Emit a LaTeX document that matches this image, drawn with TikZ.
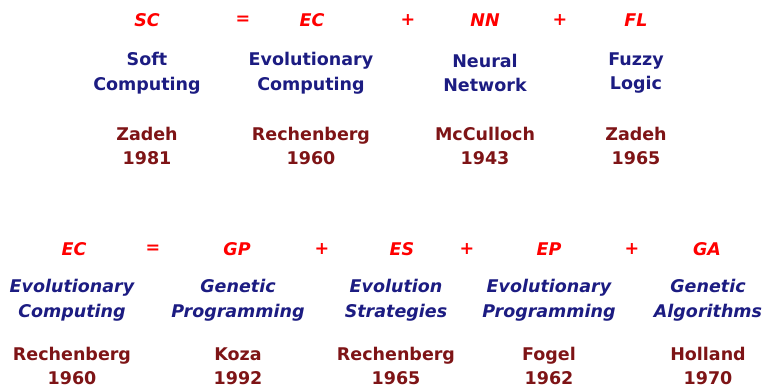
\documentclass[tikz,border=0pt]{standalone}
\usepackage{fontspec}
\setmainfont{DejaVu Sans}
\definecolor{tred}{HTML}{FF0000}
\definecolor{tnavy}{HTML}{1C1C82}
\definecolor{tmaroon}{HTML}{7E1416}
\tikzset{
  txtbase/.style={inner sep=0pt, align=center, font=\fontsize{17.5}{24.5}\selectfont\bfseries},
  abbr/.style={txtbase, text=tred, font=\fontsize{17.5}{24.5}\selectfont\bfseries\itshape},
  oper/.style={txtbase, text=tred},
  fullname/.style={txtbase, text=tnavy},
  ifullname/.style={txtbase, text=tnavy, font=\fontsize{17.5}{24.5}\selectfont\bfseries\itshape},
  author/.style={txtbase, text=tmaroon}}
\begin{document}
\begin{tikzpicture}[x=1pt,y=-1pt]
\useasboundingbox (0,0) rectangle (764,387);
% Row 1
\node[abbr] (sc) at (147,20) {SC};
\node[oper] (eq1) at (243,20) {=};
\node[abbr] (ec1) at (312,20) {EC};
\node[oper] (pl1) at (408,20) {+};
\node[abbr] (nn) at (485,20) {NN};
\node[oper] (pl2) at (560,20) {+};
\node[abbr] (fl) at (636,20) {FL};
\node[fullname] (scn) at (147,73) {Soft\\Computing};
\node[fullname] (ecn1) at (311,73) {Evolutionary\\Computing};
\node[fullname] (nnn) at (485,73) {Neural\\Network};
\node[fullname] (fln) at (636,73) {Fuzzy\\Logic};
\node[author] (scw) at (147,146) {Zadeh\\1981};
\node[author] (ecw1) at (311,146) {Rechenberg\\1960};
\node[author] (nnw) at (485,146) {McCulloch\\1943};
\node[author] (flw) at (636,146) {Zadeh\\1965};
% Row 2
\node[abbr] (ec2) at (74,249) {EC};
\node[oper] (eq2) at (153,249) {=};
\node[abbr] (gp) at (237,249) {GP};
\node[oper] (pl3) at (322,249) {+};
\node[abbr] (es) at (402,249) {ES};
\node[oper] (pl4) at (467,249) {+};
\node[abbr] (ep) at (549,249) {EP};
\node[oper] (pl5) at (632,249) {+};
\node[abbr] (ga) at (707,249) {GA};
\node[ifullname] (ecn2) at (72,300) {Evolutionary\\Computing};
\node[ifullname] (gpn) at (238,300) {Genetic\\Programming};
\node[ifullname] (esn) at (396,300) {Evolution\\Strategies};
\node[ifullname] (epn) at (549,300) {Evolutionary\\Programming};
\node[ifullname] (gan) at (708,300) {Genetic\\Algorithms};
\node[author] (ecw2) at (72,366) {Rechenberg\\1960};
\node[author] (gpw) at (238,366) {Koza\\1992};
\node[author] (esw) at (396,366) {Rechenberg\\1965};
\node[author] (epw) at (549,366) {Fogel\\1962};
\node[author] (gaw) at (708,366) {Holland\\1970};
\end{tikzpicture}
\end{document}
